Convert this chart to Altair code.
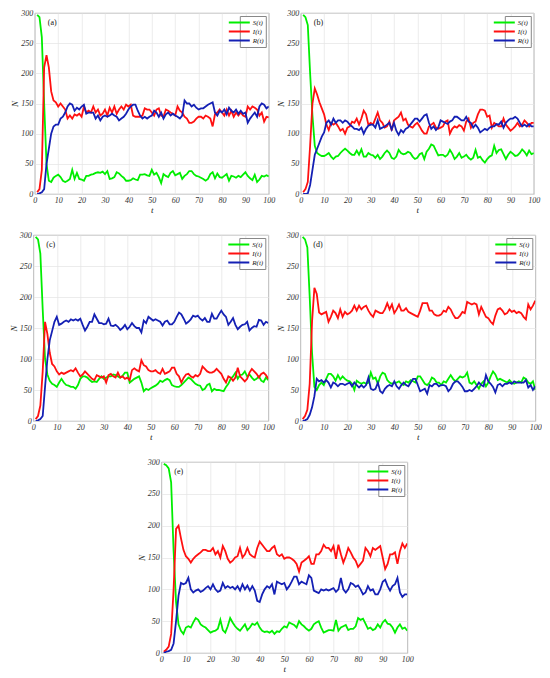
import altair as alt
import pandas as pd

T = list(range(1, 101))
SERIES = ["S(t)", "I(t)", "R(t)"]
COLORS = ["#00ee00", "#ff1010", "#1420b4"]
X_TICKS = list(range(0, 101, 10))
Y_TICKS = [0, 50, 100, 150, 200, 250, 300]

# ---------------- panel (a) ----------------
A_S = [297,293,260,150,50,22,20,27,30,32,28,22,20,22,25,40,25,35,25,24,
       22,30,30,32,33,35,36,35,37,33,38,25,26,28,36,34,30,27,22,22,
       23,26,24,23,32,32,33,31,30,40,32,35,28,18,33,30,28,35,38,31,
       33,35,25,30,33,38,38,33,30,29,27,25,22,25,33,36,26,34,28,27,
       30,33,22,30,29,27,30,28,32,36,30,26,23,32,20,24,30,29,31,29]
A_I = [3,8,40,210,230,210,170,155,152,145,150,145,140,125,130,125,132,130,133,128,
       145,135,138,135,145,135,140,130,133,140,130,143,135,145,133,140,145,140,148,145,
       148,130,128,128,128,130,142,140,140,135,130,140,142,130,128,140,138,135,133,130,
       145,138,135,128,125,118,118,120,125,128,128,125,130,128,125,112,132,135,140,135,
       130,140,130,138,128,135,130,135,130,128,145,140,145,143,140,130,135,120,128,127]
A_R = [0,1,3,8,50,75,100,112,115,115,125,128,135,145,150,148,138,143,140,145,
       148,133,135,135,135,125,130,122,128,130,128,130,133,130,128,122,125,128,133,140,
       145,148,148,138,130,125,128,125,128,130,138,135,128,135,125,132,135,130,133,130,
       128,125,130,155,150,150,145,148,143,140,142,142,145,148,150,152,135,130,138,135,
       140,132,143,138,135,140,133,138,133,135,118,125,130,135,128,145,150,148,142,145]

# ---------------- panel (b) ----------------
B_S = [297,293,280,200,130,80,68,65,63,63,65,68,62,58,62,63,68,72,75,72,
       68,65,65,72,65,74,62,62,68,65,64,60,65,58,62,68,72,68,60,58,
       62,73,68,66,67,70,68,62,58,60,66,68,58,70,75,82,80,72,64,65,
       65,62,65,73,67,58,62,68,60,62,65,60,57,60,73,60,62,56,52,58,
       62,64,80,68,73,74,66,58,65,70,67,63,64,68,74,70,64,72,66,68]
B_I = [3,8,20,80,150,175,165,152,142,132,115,106,118,115,118,112,105,108,100,110,
       112,120,118,125,115,125,138,132,115,118,115,125,135,122,118,110,112,120,105,122,
       125,128,135,122,125,115,112,110,115,118,112,105,100,100,112,115,118,110,108,110,
       112,120,122,100,108,112,110,114,112,105,120,125,110,118,120,132,140,140,138,128,
       130,110,118,115,112,112,125,115,110,105,108,112,118,112,115,122,118,112,118,118]
B_R = [0,0,1,15,40,65,75,85,95,102,118,122,115,125,118,122,122,118,122,120,
       115,112,108,108,106,110,100,108,113,115,115,110,122,108,110,112,115,118,107,118,
       105,98,106,102,108,110,115,120,125,125,120,125,130,132,118,108,112,106,110,122,
       120,118,116,120,122,128,128,125,122,122,128,120,118,110,115,110,102,105,108,106,
       110,112,112,116,115,120,110,118,122,125,125,128,125,118,112,115,112,116,112,112]

# ---------------- panel (c) ----------------
C_S = [297,293,270,180,100,75,65,60,58,55,62,68,62,58,57,55,55,52,58,68,
       72,72,70,66,63,64,63,68,72,68,70,72,72,75,74,72,70,73,78,78,
       62,65,68,70,72,62,48,52,50,53,55,57,60,65,63,66,68,66,58,56,
       55,55,58,62,66,70,68,64,60,58,57,50,52,58,60,48,52,50,50,49,
       48,55,60,68,72,78,68,74,75,80,72,75,70,66,68,72,65,63,70,66]
C_I = [3,8,25,80,160,140,110,92,88,80,75,78,76,78,80,82,80,85,78,72,
       75,80,76,72,68,66,74,72,70,72,62,74,76,72,70,78,70,72,68,70,
       66,82,85,82,80,98,90,88,82,80,80,82,78,76,84,76,78,80,86,86,
       76,72,62,70,75,76,72,70,74,72,76,88,84,80,78,78,80,84,80,76,
       68,62,72,70,65,70,86,72,68,64,68,78,84,80,76,70,76,78,74,68]
C_R = [0,1,3,8,55,100,130,145,160,168,155,157,160,162,160,164,162,164,162,165,
       155,146,152,160,160,172,165,158,158,156,157,165,154,153,155,152,147,150,155,148,
       152,158,153,150,150,143,162,158,168,165,162,164,162,160,154,160,162,156,156,160,
       168,175,172,165,157,160,164,170,168,170,165,162,166,160,160,173,165,165,172,178,
       172,168,155,160,166,155,148,152,155,156,160,146,150,153,152,163,162,155,160,158]

# ---------------- panel (d) ----------------
D_S = [297,293,280,200,110,55,50,58,62,58,68,76,76,72,65,74,67,72,68,65,
       64,60,50,65,62,60,62,60,62,78,68,70,60,72,78,76,66,62,60,62,
       62,64,60,58,64,62,66,64,62,72,72,66,60,58,62,70,68,62,62,58,
       64,62,68,74,68,64,68,72,70,72,78,62,60,64,58,52,60,64,56,62,
       72,80,75,66,68,66,64,62,66,62,60,62,64,62,70,68,62,60,64,50]
D_I = [3,8,18,60,160,215,205,175,172,174,176,160,168,178,174,166,180,168,176,172,
       174,178,186,178,186,180,184,186,178,172,168,178,176,174,174,180,190,180,188,174,
       180,188,178,178,182,176,174,172,170,168,178,190,190,190,178,178,172,170,170,172,
       178,176,184,180,172,166,166,170,176,174,192,190,188,190,188,172,184,176,168,166,
       160,156,170,180,182,178,172,174,180,176,178,174,176,174,168,164,188,180,186,194]
D_R = [0,1,3,10,22,40,68,64,66,62,66,62,54,62,60,56,60,60,58,60,
       62,56,62,58,54,58,54,58,70,52,50,52,62,48,45,52,56,58,56,64,
       56,52,58,62,58,56,62,68,68,58,48,50,52,44,58,56,60,60,56,58,
       58,56,48,52,60,64,64,60,55,48,48,50,48,52,56,62,58,56,74,64,
       60,55,46,58,60,56,60,60,62,60,64,62,62,62,62,66,54,58,50,56]

# ---------------- panel (e) ----------------
E_S = [297,295,290,268,160,80,45,35,30,40,42,40,48,55,52,45,42,40,36,32,
       34,35,38,52,36,32,42,55,48,42,38,35,40,45,36,40,46,44,48,40,
       35,33,34,32,35,30,34,33,38,42,40,48,46,44,40,50,45,42,38,35,
       38,45,48,50,40,32,34,36,36,35,52,35,40,42,44,36,38,38,42,55,
       52,54,46,38,40,36,38,45,40,48,52,46,45,40,32,40,45,38,40,35]
E_I = [2,5,10,30,100,195,200,180,162,152,148,142,148,152,155,158,162,162,160,160,
       165,155,160,150,168,160,148,142,145,150,152,165,150,155,165,155,152,150,165,175,
       170,165,160,160,165,168,155,152,155,148,150,150,148,145,140,128,142,145,148,152,
       140,140,155,155,160,170,165,165,160,168,148,170,155,142,152,165,158,150,145,135,
       140,145,165,160,152,165,162,165,168,150,132,140,155,155,158,140,160,172,165,172]
E_R = [0,2,3,5,15,50,90,110,108,110,118,100,95,98,100,96,98,102,105,100,
       108,100,96,98,110,102,105,102,104,100,105,98,108,100,106,98,105,98,82,80,
       92,100,105,102,108,92,112,110,108,110,100,105,112,120,120,108,112,110,108,122,
       118,98,96,94,100,98,100,98,100,102,96,100,118,100,95,100,110,108,104,106,
       100,92,95,105,98,100,92,92,100,112,115,105,98,105,108,118,95,88,92,92]

SERIF = "Liberation Serif"


def panel(S, I, R, label, w, h):
    df = pd.DataFrame({
        "t": T * 3,
        "N": S + I + R,
        "series": [SERIES[0]] * len(T) + [SERIES[1]] * len(T) + [SERIES[2]] * len(T),
    })
    lines = alt.Chart(df).mark_line(strokeWidth=1.8, clip=True).encode(
        x=alt.X("t:Q", scale=alt.Scale(domain=[0, 100], nice=False),
                axis=alt.Axis(values=X_TICKS, title="t", labelFlush=False)),
        y=alt.Y("N:Q", scale=alt.Scale(domain=[0, 300], nice=False),
                axis=alt.Axis(values=Y_TICKS, title="N")),
        color=alt.Color("series:N",
                        scale=alt.Scale(domain=SERIES, range=COLORS),
                        sort=SERIES,
                        legend=alt.Legend(title=None, orient="top-right", offset=3,
                                          symbolType="M-5,0H1", symbolSize=49,
                                          symbolStrokeWidth=2, labelFont=SERIF,
                                          labelFontStyle="italic", labelFontSize=7,
                                          labelOffset=2, rowPadding=0, padding=2,
                                          strokeColor="#888", fillColor="white",
                                          labelColor="#222")),
    )
    lab = alt.Chart(pd.DataFrame({"lab": [label]})).mark_text(
        align="left", baseline="middle", font=SERIF, fontSize=8, color="#111"
    ).encode(x=alt.value(13), y=alt.value(10), text="lab:N")
    return alt.layer(lines, lab).properties(width=w, height=h)


pa = panel(A_S, A_I, A_R, "(a)", 234, 181)
pb = panel(B_S, B_I, B_R, "(b)", 233, 181)
pc = panel(C_S, C_I, C_R, "(c)", 235, 186)
pd_ = panel(D_S, D_I, D_R, "(d)", 235, 186)
pe = panel(E_S, E_I, E_R, "(e)", 246, 191)

row1 = alt.hconcat(pa, pb, spacing=0).resolve_scale(color="independent")
row2 = alt.hconcat(pc, pd_, spacing=0).resolve_scale(color="independent")

chart = alt.vconcat(row1, row2, pe, spacing=15, center=True).resolve_scale(
    color="independent"
).properties(
    background="white", padding=0
).configure_view(
    stroke="#8a8a8a", strokeWidth=0.8
).configure_axis(
    grid=True, gridColor="#e4e4e4", gridWidth=0.7,
    domain=False, ticks=False,
    labelFont=SERIF, labelFontStyle="italic", labelFontSize=8, labelColor="#333",
    labelPadding=2,
    titleFont=SERIF, titleFontStyle="italic", titleFontWeight="normal",
    titleFontSize=9, titleColor="#222", titlePadding=1,
)

chart.save("out.html", embed_options={"renderer": "svg", "actions": False})
